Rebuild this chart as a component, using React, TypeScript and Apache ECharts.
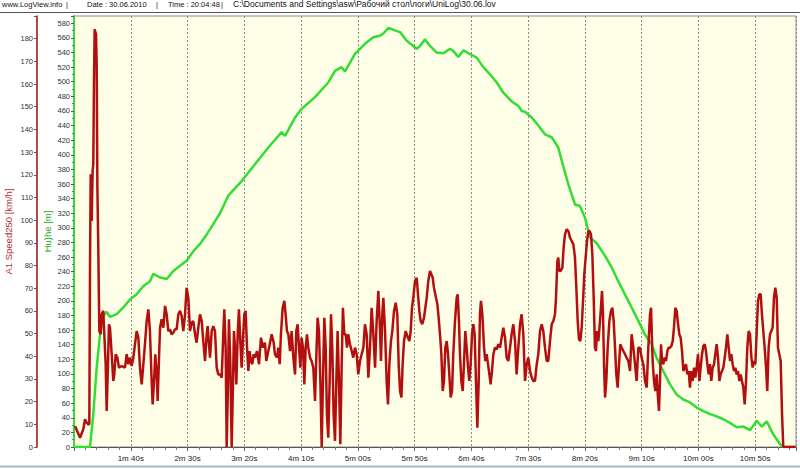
import React, { useEffect, useRef } from 'react';
import * as echarts from 'echarts';

// ---- header texts ----
const headerParts = [
  'www.LogView.info',
  '|',
  'Date : 30.06.2010',
  '|',
  'Time : 20:04:48',
  '|',
  'C:\\Documents and Settings\\asw\\Рабочий стол\\логи\\UniLog\\30.06.lov',
];
const headerX = [2, 66, 87, 156, 168, 221, 233];
const headerSize = [7.5, 7.5, 7.5, 7.5, 7.5, 7.5, 8.5];

// ---- axes ----
const X_MIN = 50;
const X_MAX = 686;
const X_STEP = 50;
const SPEED_MAX = 190;
const SPEED_STEP = 10;
const ALT_MAX = 590;
const ALT_STEP = 20;
const speedName = 'A1 Speed250 [km/h]';
const altName = 'Hu)he [m]';

// ---- series: A1 Speed250 [km/h] (time in s) ----
const speedT = [
  50.9, 55.3, 58.2, 59.7, 61.2, 62.6, 63.5, 64.1, 64.7, 65.6, 66.4, 67.0, 67.6, 68.2, 69.4, 70.0, 70.6, 71.4, 72.3, 73.5,
  74.4, 75.8, 76.7, 77.9, 78.8, 79.7, 80.8, 81.7, 83.2, 84.6, 85.5, 86.7, 88.2, 89.6, 92.0, 94.9, 96.4, 97.9, 99.3, 100.8,
  102.3, 103.7, 105.2, 106.7, 108.1, 109.6, 111.1, 112.5, 114.0, 115.5, 116.9, 118.4, 119.3, 120.5, 121.6, 122.8, 123.7, 124.6, 125.8, 127.2,
  128.7, 130.2, 131.6, 133.1, 134.6, 136.0, 137.5, 139.0, 140.4, 141.9, 143.4, 144.8, 146.3, 147.8, 149.2, 150.7, 152.2, 153.6, 155.1, 156.6,
  158.0, 159.5, 161.0, 162.5, 163.9, 165.4, 166.9, 167.7, 168.9, 169.8, 171.3, 172.7, 174.2, 175.7, 177.1, 178.6, 180.1, 181.5, 182.4, 183.6,
  184.5, 185.4, 186.5, 187.7, 188.9, 190.1, 190.9, 191.8, 193.0, 194.2, 195.3, 196.5, 197.7, 198.9, 200.0, 201.2, 202.4, 203.6, 204.7, 205.9,
  207.1, 208.3, 209.4, 211.2, 213.0, 214.7, 216.5, 218.2, 219.4, 220.6, 222.4, 224.1, 225.9, 227.0, 228.8, 230.0, 231.2, 232.3, 233.8, 235.3,
  236.4, 237.6, 238.8, 240.3, 241.7, 243.2, 244.7, 245.8, 247.0, 248.2, 249.4, 250.5, 251.7, 252.9, 254.1, 255.2, 256.4, 257.9, 259.3, 260.8,
  262.3, 263.7, 264.6, 265.8, 267.0, 268.2, 269.3, 270.5, 271.7, 272.8, 274.0, 275.2, 276.4, 277.5, 278.7, 279.9, 281.1, 282.2, 283.4, 284.6,
  285.8, 286.9, 288.1, 289.3, 290.5, 291.6, 293.1, 294.6, 296.0, 297.5, 299.0, 300.4, 301.9, 303.4, 304.9, 306.3, 307.8, 309.3, 310.7, 312.2,
  313.7, 315.2, 316.6, 318.1, 319.6, 320.4, 321.6, 322.5, 324.0, 325.4, 326.6, 327.8, 329.2, 330.4, 331.9, 333.4, 334.8, 336.0, 337.2, 338.4,
  339.5, 340.7, 342.2, 343.6, 345.4, 346.6, 347.7, 348.9, 350.4, 351.9, 353.0, 354.2, 355.4, 356.8, 358.3, 359.5, 360.7, 362.1, 363.6, 364.8,
  366.0, 367.1, 368.9, 370.1, 371.2, 372.4, 373.6, 374.8, 375.9, 377.1, 378.3, 379.5, 380.6, 381.8, 383.0, 384.1, 385.6, 387.1, 388.0, 389.1,
  390.0, 391.2, 392.4, 393.5, 394.7, 395.9, 397.1, 398.2, 399.4, 400.6, 401.8, 402.9, 404.1, 405.3, 406.5, 407.6, 408.5, 409.7, 411.2, 412.3,
  413.5, 414.7, 415.9, 417.0, 418.2, 419.4, 420.8, 422.3, 423.8, 425.3, 426.7, 428.2, 429.7, 431.1, 432.6, 434.1, 435.5, 437.0, 438.5, 439.9,
  441.4, 442.9, 444.3, 445.8, 447.3, 448.8, 450.2, 451.7, 453.2, 454.6, 456.1, 457.6, 459.0, 460.5, 462.0, 463.4, 464.9, 466.4, 467.8, 469.3,
  470.8, 472.2, 473.7, 474.6, 475.8, 476.6, 477.5, 478.7, 480.2, 481.3, 482.5, 484.0, 485.5, 486.9, 488.4, 489.9, 491.3, 492.5, 493.7, 494.8,
  496.0, 497.2, 498.4, 499.5, 500.7, 501.9, 503.1, 504.2, 505.4, 506.6, 507.8, 508.9, 509.8, 510.7, 511.9, 513.1, 514.2, 515.1, 516.0, 516.9,
  517.8, 518.9, 520.1, 521.6, 523.0, 524.2, 525.4, 526.6, 527.7, 528.9, 530.1, 531.2, 532.4, 533.9, 535.4, 536.8, 538.3, 539.8, 541.2, 542.7,
  544.2, 545.6, 547.1, 548.6, 550.0, 551.5, 553.0, 554.5, 555.9, 557.4, 558.3, 559.7, 560.9, 562.1, 563.3, 564.4, 565.3, 566.2, 567.1, 568.0,
  569.1, 570.3, 571.5, 572.7, 573.8, 575.0, 576.2, 577.4, 578.5, 579.7, 580.9, 582.1, 583.2, 584.4, 585.6, 586.8, 587.9, 589.1, 590.3, 591.5,
  592.6, 593.8, 595.0, 596.2, 597.3, 598.5, 599.7, 600.9, 602.0, 603.2, 604.4, 605.6, 606.7, 607.9, 609.1, 610.2, 611.4, 612.6, 613.8, 614.9,
  616.1, 617.3, 618.5, 619.6, 620.8, 622.0, 623.2, 624.3, 625.5, 626.7, 627.9, 629.0, 630.2, 631.4, 632.6, 633.7, 634.9, 636.1, 637.3, 638.4,
  639.6, 640.8, 642.0, 643.1, 644.3, 645.5, 646.7, 647.8, 649.0, 650.2, 651.4, 652.5, 653.7, 654.9, 656.0, 657.2, 658.4, 659.6, 660.7, 661.9,
  663.1, 664.3, 665.4, 666.6, 667.8, 669.0, 670.1, 671.3, 672.5, 673.7, 674.8, 685.7,
];
const speedV = [
  9.3, 4.1, 7.8, 12.2, 10.7, 10.0, 10.0, 79.1, 120.2, 99.6, 121.7, 124.6, 161.3, 184.1, 181.9, 168.7, 114.3, 87.9, 51.1, 49.7,
  58.5, 60.0, 49.7, 36.5, 15.9, 32.0, 54.1, 52.6, 40.9, 29.1, 32.0, 40.9, 39.4, 35.0, 35.7, 35.0, 40.9, 36.5, 39.4, 35.7,
  39.4, 45.3, 51.1, 48.2, 35.0, 27.6, 36.5, 45.3, 55.5, 60.7, 51.1, 29.1, 18.8, 29.1, 40.9, 32.0, 20.3, 35.0, 52.6, 56.3,
  52.6, 62.2, 58.5, 51.1, 51.9, 49.7, 50.4, 51.9, 51.9, 58.5, 60.0, 57.8, 51.1, 58.5, 70.2, 65.8, 51.1, 54.8, 55.5, 49.7,
  46.0, 52.6, 58.5, 55.5, 46.7, 37.9, 49.7, 53.3, 45.3, 39.4, 51.1, 53.3, 51.1, 35.0, 32.0, 32.0, 30.6, 49.7, 60.7, 43.8,
  0, 21.8, 56.3, 36.5, 0, 29.1, 51.1, 43.8, 27.6, 49.7, 60.7, 46.7, 35.0, 48.2, 58.5, 60.0, 43.8, 33.5, 42.3, 37.9,
  36.5, 40.9, 39.4, 42.3, 36.5, 48.2, 43.8, 46.0, 37.9, 40.9, 45.3, 49.7, 46.0, 40.9, 39.4, 43.8, 36.5, 49.7, 61.4, 64.4,
  58.5, 51.1, 49.7, 42.3, 51.1, 39.4, 32.0, 51.1, 54.1, 43.8, 35.0, 48.2, 43.8, 27.6, 43.8, 49.7, 43.8, 39.4, 37.9, 35.0,
  20.3, 43.8, 57.0, 51.1, 29.1, 0, 29.1, 57.0, 43.8, 14.4, 4.1, 29.1, 58.5, 43.8, 14.4, 2.7, 29.1, 51.1, 29.1, 1.2,
  36.5, 61.4, 49.7, 49.7, 43.8, 49.7, 45.3, 42.3, 39.4, 43.8, 40.9, 32.0, 37.9, 40.9, 43.8, 54.1, 49.7, 30.6, 43.8, 61.4,
  49.7, 35.0, 55.5, 68.8, 51.1, 37.9, 58.5, 65.8, 51.1, 29.1, 18.8, 36.5, 46.7, 51.1, 60.0, 63.6, 58.5, 36.5, 24.7, 21.8,
  36.5, 46.7, 51.1, 48.9, 46.7, 51.1, 61.4, 65.8, 73.2, 74.6, 67.3, 60.0, 55.5, 54.1, 57.0, 61.4, 65.8, 73.2, 77.6, 76.1,
  74.6, 70.2, 65.8, 62.9, 57.0, 49.7, 40.9, 24.7, 29.1, 43.8, 46.7, 40.9, 32.0, 21.8, 24.7, 40.9, 55.5, 65.8, 67.3, 55.5,
  40.9, 29.1, 24.7, 36.5, 51.1, 43.8, 35.0, 29.1, 36.5, 49.7, 54.1, 49.7, 29.1, 8.5, 29.1, 58.5, 64.4, 58.5, 43.8, 37.9,
  40.9, 36.5, 32.0, 27.6, 33.5, 40.9, 43.8, 43.1, 45.3, 43.8, 48.2, 52.6, 48.2, 39.4, 37.9, 43.8, 49.7, 54.1, 46.7, 32.0,
  43.8, 54.1, 58.5, 49.7, 29.1, 36.5, 39.4, 33.5, 30.6, 29.1, 29.1, 36.5, 40.9, 51.1, 54.1, 51.1, 43.8, 37.9, 37.9, 46.7,
  54.1, 55.5, 58.5, 65.8, 82.0, 83.5, 77.6, 77.6, 79.1, 87.9, 93.7, 96.0, 95.2, 92.3, 90.8, 89.3, 83.5, 70.2, 55.5, 47.5,
  46.7, 52.6, 64.4, 76.1, 83.5, 90.8, 95.2, 95.2, 93.7, 85.0, 65.8, 43.8, 42.3, 51.1, 46.7, 54.1, 61.4, 68.8, 58.5, 36.5,
  21.8, 29.1, 43.8, 55.5, 60.0, 61.4, 55.5, 43.8, 32.0, 26.2, 36.5, 45.3, 43.8, 42.3, 40.9, 39.4, 37.9, 33.5, 49.7, 43.8,
  36.5, 29.1, 43.8, 43.8, 39.4, 36.5, 29.1, 26.2, 43.8, 58.5, 61.4, 37.9, 29.1, 24.7, 32.0, 21.8, 15.9, 29.1, 45.3, 37.9,
  36.5, 39.4, 37.9, 42.3, 43.8, 43.8, 44.5, 46.7, 52.6, 61.4, 60.0, 54.1, 49.7, 48.2, 42.3, 33.5, 35.0, 36.5, 32.0, 33.5,
  26.2, 33.5, 29.1, 35.0, 30.6, 35.0, 40.9, 29.1, 35.0, 40.9, 44.5, 45.3, 42.3, 36.5, 32.0, 36.5, 29.1, 35.0, 36.5, 40.9,
  45.3, 39.4, 29.1, 32.0, 33.5, 35.0, 39.4, 43.8, 49.7, 43.8, 37.9, 40.9, 36.5, 33.5, 35.0, 32.0, 33.5, 29.1, 32.0, 29.1,
  26.2, 18.8, 29.1, 43.8, 51.1, 49.7, 39.4, 35.0, 37.9, 36.5, 51.1, 64.4, 67.3, 67.3, 58.5, 51.1, 43.8, 35.0, 24.7, 43.8,
  49.7, 51.1, 52.6, 65.8, 70.2, 65.8, 43.8, 40.9, 37.9, 14.4, 0, 0,
];

// ---- series: altitude [m] (time in s) ----
const altT = [
  50.0, 64.1, 67.0, 70.0, 72.9, 75.8, 78.8, 81.7, 87.6, 93.4, 99.3, 105.2, 111.0, 116.9, 119.9, 125.8, 131.7, 137.5, 143.4, 149.3,
  155.1, 161.0, 166.9, 172.7, 178.6, 185.9, 197.7, 209.4, 221.2, 232.9, 235.9, 244.7, 250.6, 262.3, 274.0, 279.9, 285.8, 288.7, 297.5, 306.3,
  313.6, 319.5, 322.5, 326.9, 331.3, 337.2, 343.1, 348.9, 351.9, 354.8, 359.2, 363.6, 369.5, 375.4, 381.2, 384.2, 388.6, 393.0, 398.9, 404.7,
  410.6, 416.5, 422.4, 428.2, 435.6, 441.4, 444.4, 447.3, 453.2, 459.0, 464.9, 470.8, 476.6, 479.6, 485.4, 491.3, 495.7, 500.1, 504.5, 510.4,
  517.7, 523.6, 529.4, 535.3, 541.2, 547.0, 552.9, 558.8, 563.2, 569.0, 574.9, 580.8, 586.7, 592.6, 598.5, 604.4, 610.3, 616.2, 622.0, 627.9,
  633.8, 639.7, 645.5, 651.4, 655.8, 660.2, 666.1, 671.9, 674.8, 686.0,
];
const altV = [
  0, 0, 45, 109, 154, 179, 185, 178, 182, 191, 202, 209, 220, 227, 237, 232, 230, 241, 248, 255,
  268, 278, 291, 305, 320, 344, 364, 387, 410, 431, 426, 451, 463, 479, 499, 515, 520, 514, 538, 552,
  561, 563, 566, 574, 571, 568, 556, 549, 545, 549, 558, 549, 540, 539, 545, 542, 534, 543, 538, 533,
  520, 510, 499, 485, 473, 467, 460, 459, 451, 440, 428, 424, 410, 392, 360, 332, 330, 314, 287, 279,
  262, 246, 227, 209, 191, 173, 154, 141, 122, 104, 86, 72, 65, 61, 54, 49, 45, 42, 38, 33,
  27, 28, 23, 36, 28, 35, 17, 4, 0, 0,
];

const RED = '#B30F0F';
const GREEN = '#33DD33';
const FONT = 'Liberation Sans, Arial, sans-serif';

function fmtTime(v: number): string {
  if (v <= X_MIN || v >= X_MAX || v % X_STEP !== 0) return '';
  const m = Math.floor(v / 60);
  const s = v % 60;
  return `${m}m ${String(s).padStart(2, '0')}s`;
}

export default function App() {
  const ref = useRef<HTMLDivElement>(null);
  useEffect(() => {
    if (!ref.current) return;
    const chart = echarts.init(ref.current, undefined, { renderer: 'svg' });
    const speedData = speedT.map((t, i) => [t, speedV[i]]);
    const altData = altT.map((t, i) => [t, altV[i]]);
    const graphics: any[] = headerParts.map((txt, i) => ({
      type: 'text',
      left: headerX[i],
      top: headerSize[i] > 8 ? -0.5 : 0,
      style: { text: txt, fill: '#111', font: `${headerSize[i]}px ${FONT}` },
    }));
    graphics.push({
      type: 'line',
      shape: { x1: 0, y1: 12.5, x2: 800, y2: 12.5 },
      style: { stroke: '#555', lineWidth: 1 },
    });
    graphics.push({
      type: 'line',
      shape: { x1: 0, y1: 466.5, x2: 800, y2: 466.5 },
      style: { stroke: '#A7B7C7', lineWidth: 2 },
    });
    chart.setOption({
      animation: false,
      backgroundColor: '#ffffff',
      graphic: graphics,
      grid: {
        left: 74,
        right: 4,
        top: 16,
        height: 431,
        show: true,
        backgroundColor: '#FFFFE8',
        borderColor: '#8c8c8c',
        borderWidth: 1,
        containLabel: false,
        outerBoundsMode: 'none',
      },
      xAxis: {
        type: 'value',
        min: X_MIN,
        max: X_MAX,
        interval: X_STEP,
        axisLine: { onZero: false, lineStyle: { color: '#555', width: 1 } },
        axisTick: { show: true, length: 4, lineStyle: { color: '#666' } },
        minorTick: { show: true, splitNumber: 5, length: 3, lineStyle: { color: '#777' } },
        splitLine: { show: true, lineStyle: { color: '#8a8a8a', type: [2, 2], width: 1 } },
        axisLabel: {
          formatter: fmtTime,
          fontSize: 8,
          color: '#222',
          margin: 7,
          fontFamily: FONT,
          showMinLabel: false,
          showMaxLabel: false,
        },
      },
      yAxis: [
        {
          type: 'value',
          position: 'left',
          offset: 37,
          min: 0,
          max: SPEED_MAX,
          interval: SPEED_STEP,
          name: speedName,
          nameLocation: 'middle',
          nameGap: 24,
          nameMoveOverlap: false,
          nameTextStyle: { color: '#B33030', fontSize: 9.5, fontFamily: FONT },
          axisLine: { show: true, lineStyle: { color: '#8B1010', width: 1.5 } },
          axisTick: { show: true, length: 3, lineStyle: { color: '#555' } },
          splitLine: { show: false },
          axisLabel: {
            formatter: (v: number) => (v >= SPEED_MAX ? '' : String(v)),
            fontSize: 7.5,
            color: '#333',
            margin: 4,
            fontFamily: FONT,
          },
        },
        {
          type: 'value',
          position: 'left',
          offset: 0,
          min: 0,
          max: ALT_MAX,
          interval: ALT_STEP,
          name: altName,
          nameLocation: 'middle',
          nameGap: 22,
          nameMoveOverlap: false,
          nameTextStyle: { color: '#22AA22', fontSize: 9.5, fontFamily: FONT },
          axisLine: { show: true, lineStyle: { color: GREEN, width: 2 } },
          axisTick: { show: true, length: 3, lineStyle: { color: '#555' } },
          minorTick: { show: true, splitNumber: 2, length: 2, lineStyle: { color: '#777' } },
          splitLine: { show: false },
          axisLabel: {
            formatter: (v: number) => (v % ALT_STEP !== 0 || v >= ALT_MAX ? '' : String(v)),
            fontSize: 7.5,
            color: '#333',
            margin: 4,
            fontFamily: FONT,
          },
        },
      ],
      series: [
        {
          type: 'line',
          name: altName,
          yAxisIndex: 1,
          data: altData,
          showSymbol: false,
          lineStyle: { color: GREEN, width: 2.5 },
          z: 3,
        },
        {
          type: 'line',
          name: speedName,
          yAxisIndex: 0,
          data: speedData,
          showSymbol: false,
          lineStyle: { color: RED, width: 2.5 },
          z: 4,
        },
      ],
    });
    return () => chart.dispose();
  }, []);
  return <div ref={ref} style={{ width: 800, height: 469, position: 'absolute', left: 0, top: 0 }} />;
}
